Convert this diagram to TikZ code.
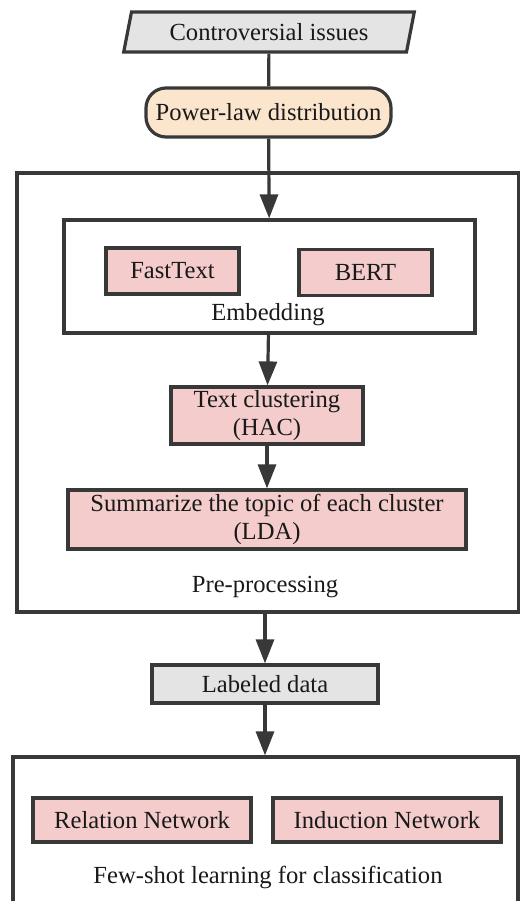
\documentclass[tikz,border=0pt]{standalone}
\usepackage{fontspec}
\setmainfont{Liberation Serif}
\usetikzlibrary{arrows.meta,positioning,shapes.geometric}
\definecolor{cLine}{HTML}{383838}
\definecolor{cPink}{HTML}{F4CCCC}
\definecolor{cPeach}{HTML}{FCE5CD}
\definecolor{cGray}{HTML}{E4E4E4}

\begin{document}
\begin{tikzpicture}[x=0.5pt,y=-0.5pt,
  every node/.style={font=\fontsize{12.3}{14}\selectfont,text=black!90},
  box/.style={draw=cLine,line width=1.6pt,fill=cPink,inner sep=0pt,align=center},
  frame/.style={draw=cLine,line width=1.6pt,inner sep=0pt},
  arr/.style={draw=cLine,line width=1.6pt,-{Triangle[length=12pt,width=9pt]}}]
  \useasboundingbox (0,0) rectangle (520,901);
  % frames first
  \node[frame,minimum width=251pt,minimum height=219.5pt] (pre) at (268,392.5){};
  \node[frame,minimum width=205.5pt,minimum height=56.5pt] (embed) at (269.5,276.5){};
  \node[frame,minimum width=252.5pt,minimum height=74pt] (few) at (265.5,831){};
  % input and source
  \node[box,fill=cGray,trapezium,trapezium left angle=72,trapezium right angle=108,
        trapezium stretches=true,minimum width=145.5pt,minimum height=20pt] (contr) at (269,32){Controversial issues};
  \node[box,fill=cPeach,rounded corners=10pt,minimum width=122.5pt,minimum height=24.5pt] (power) at (268.5,112.5){Power-law distribution};
  % pre-processing
  \node[box,minimum width=66.5pt,minimum height=23pt] (fast) at (172.5,271){FastText};
  \node[box,minimum width=66.5pt,minimum height=23pt] (bert) at (365.5,272.5){BERT};
  \node (embedlbl) at (268,315){Embedding};
  \node[box,minimum width=96pt,minimum height=28.5pt] (clus) at (267,415.5){Text clustering\\(HAC)};
  \node[box,minimum width=199pt,minimum height=29.5pt] (lda) at (267,519.5){Summarize the topic of each cluster\\(LDA)};
  \node (prelbl) at (265,587){Pre-processing};
  % labels and classifiers
  \node[box,fill=cGray,minimum width=113pt,minimum height=19pt] (label) at (265,684){Labeled data};
  \node[box,minimum width=109pt,minimum height=22pt] (rel) at (142,820){Relation Network};
  \node[box,minimum width=114pt,minimum height=22pt] (ind) at (387,820){Induction Network};
  \node (fewlbl) at (268,877){Few-shot learning for classification};
  % connectors
  \draw[draw=cLine,line width=1.6pt] (contr) -- (power);
  \draw[arr] (power) -- (embed);
  \draw[arr] (embed) -- (clus);
  \draw[arr] (clus) -- (lda);
  \draw[arr] (pre.south -| label) -- (label);
  \draw[arr] (label) -- (few.north -| label);
\end{tikzpicture}
\end{document}
